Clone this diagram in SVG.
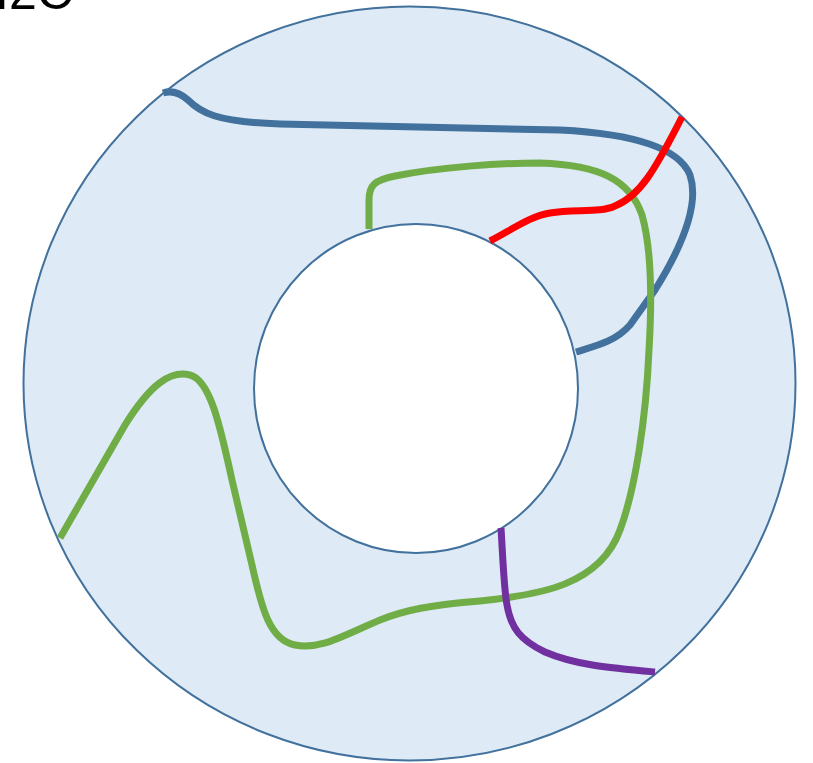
<svg xmlns="http://www.w3.org/2000/svg" width="813" height="763" viewBox="0 0 813 763">
<style>
.ring{stroke:#41719C;stroke-width:2}
.w{fill:none;stroke-width:7;stroke-linecap:butt;stroke-linejoin:round}
.t{font-family:"Liberation Sans",Arial,sans-serif;font-size:50px;fill:#000}
</style>
<rect width="813" height="763" fill="#fff"/>
<text class="t" x="-5" y="9">I2C</text>
<g id="outer"><ellipse class="ring" cx="409.5" cy="383.5" rx="386" ry="377" fill="#DEEAF6"/></g>
<g id="inner"><ellipse class="ring" cx="416" cy="388.5" rx="162" ry="164.5" fill="#fff"/></g>
<g id="connectors">
<path class="w" stroke="#41719C" d="M163,93 C172,90 180,93 188,100 C200,112 215,122 280,124 L560,130 C640,134 680,150 690,175 C700,205 680,250 655,290 L630,325 C615,342 595,346 576,352"/>
<path class="w" stroke="#70AD47" d="M369,229 L369,200 C369,185 375,180 395,176 C440,167 500,163 540,163 C600,165 630,180 642,215 C652,250 652,300 649,350 C646,420 635,490 620,530 C600,585 540,595 480,601 C430,605 405,610 380,620 C340,637 320,650 295,645 C270,640 262,610 252,565 L232,480 C220,425 210,380 190,375 C170,370 150,385 125,425 L60,538"/>
<path class="w" stroke="#FF0000" d="M490,241 C510,231 530,216 550,213 C575,209 600,213 615,206 C640,196 655,170 682,117"/>
<path class="w" stroke="#7030A0" d="M501,528 C503,560 504,590 507,605 C511,628 520,640 545,652 C575,665 610,668 655,672"/>
</g>
</svg>
